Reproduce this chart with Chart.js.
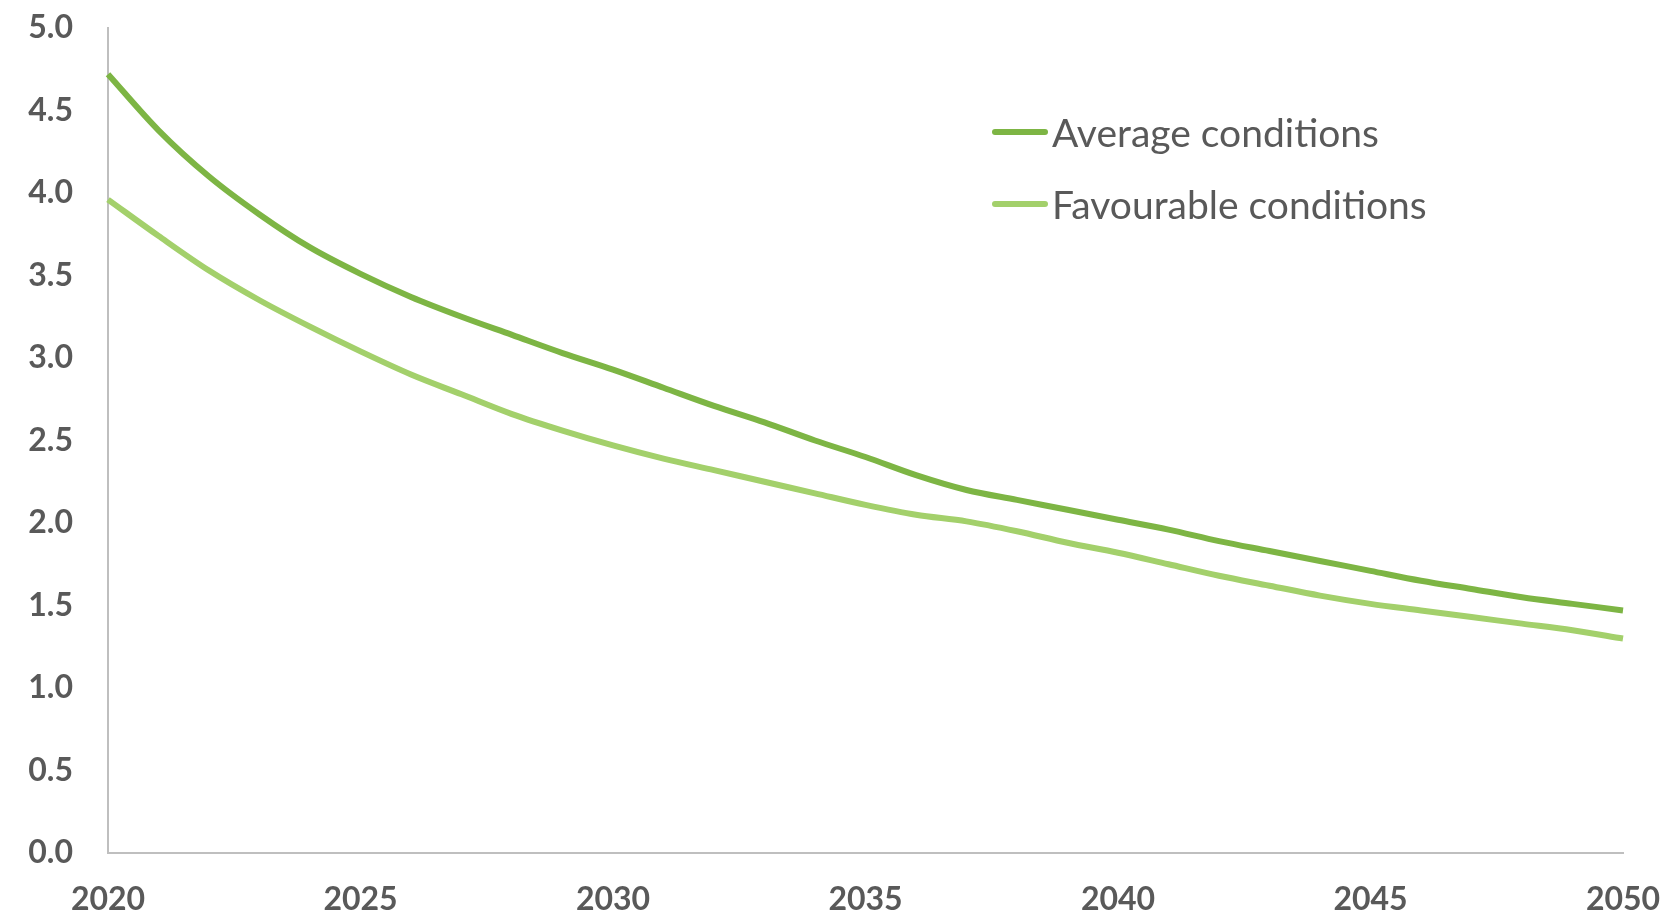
<!DOCTYPE html>
<html>
<head>
<meta charset="utf-8">
<script src="https://cdn.jsdelivr.net/npm/chart.js@4/dist/chart.umd.min.js"></script>
<style>
  html, body { margin: 0; padding: 0; background: #ffffff; }
  #wrap { position: relative; width: 1679px; height: 917px; }
  #legend { position: absolute; left: 992px; top: 108px; font-family: Lato, "Open Sans", sans-serif; color: #595959; font-size: 39px; }
  .row { position: absolute; left: 0; white-space: nowrap; height: 48px; display: flex; align-items: center; }
  .swatch { width: 56px; height: 6px; border-radius: 3px; margin-right: 4px; }
</style>
</head>
<body>
<div id="wrap">
  <canvas id="c" width="1679" height="917"></canvas>
  <div id="legend"></div>
</div>
<script>
const years = [2020,2021,2022,2023,2024,2025,2026,2027,2028,2029,2030,2031,2032,2033,2034,2035,2036,2037,2038,2039,2040,2041,2042,2043,2044,2045,2046,2047,2048,2049,2050];
const averageConditions = [4.72,4.38,4.10,3.87,3.67,3.51,3.37,3.25,3.14,3.03,2.93,2.82,2.71,2.61,2.50,2.40,2.29,2.20,2.14,2.08,2.02,1.96,1.89,1.83,1.77,1.71,1.65,1.60,1.55,1.51,1.47];
const favourableConditions = [3.96,3.74,3.53,3.35,3.19,3.04,2.90,2.78,2.66,2.56,2.47,2.39,2.32,2.25,2.18,2.11,2.05,2.01,1.95,1.88,1.82,1.75,1.68,1.62,1.56,1.51,1.47,1.43,1.39,1.35,1.30];
const seriesNames = ["Average conditions", "Favourable conditions"];
const seriesColors = ["#7DB544", "#A3D06B"];

const legend = document.getElementById('legend');
seriesNames.forEach((name, i) => {
  const row = document.createElement('div');
  row.className = 'row';
  row.style.top = (i * 72) + 'px';
  const sw = document.createElement('div');
  sw.className = 'swatch';
  sw.style.background = seriesColors[i];
  const tx = document.createElement('span');
  tx.textContent = name;
  row.appendChild(sw);
  row.appendChild(tx);
  legend.appendChild(row);
});

const tickFont = { family: 'Lato, "Open Sans", sans-serif', size: 32, weight: 'bold' };

new Chart(document.getElementById('c'), {
  type: 'line',
  data: {
    labels: years,
    datasets: [
      { label: seriesNames[0], data: averageConditions, borderColor: seriesColors[0], borderWidth: 6, pointRadius: 0, cubicInterpolationMode: 'monotone', fill: false },
      { label: seriesNames[1], data: favourableConditions, borderColor: seriesColors[1], borderWidth: 6, pointRadius: 0, cubicInterpolationMode: 'monotone', fill: false }
    ]
  },
  options: {
    responsive: false,
    animation: false,
    layout: { padding: { left: 0, right: 56, top: 28, bottom: 0 } },
    plugins: { legend: { display: false }, tooltip: { enabled: false } },
    scales: {
      x: {
        type: 'category',
        offset: false,
        grid: { display: false, drawTicks: false },
        border: { display: true, color: '#BFBFBF', width: 2 },
        ticks: {
          autoSkip: false, maxRotation: 0, color: '#595959', font: tickFont, padding: 27,
          callback: function(v, i) { const y = years[i]; return (y % 5 === 0) ? String(y) : null; }
        },
        afterFit: function(s) { s.height = 64; s.paddingLeft = 0; s.paddingRight = 0; }
      },
      y: {
        min: 0, max: 5,
        grid: { display: false, drawTicks: false },
        border: { display: true, color: '#BFBFBF', width: 2 },
        ticks: { stepSize: 0.5, color: '#595959', font: tickFont, padding: 35, callback: v => Number(v).toFixed(1) },
        afterFit: function(s) { s.width = 108; s.paddingTop = 0; s.paddingBottom = 0; }
      }
    }
  }
});
</script>
</body>
</html>
